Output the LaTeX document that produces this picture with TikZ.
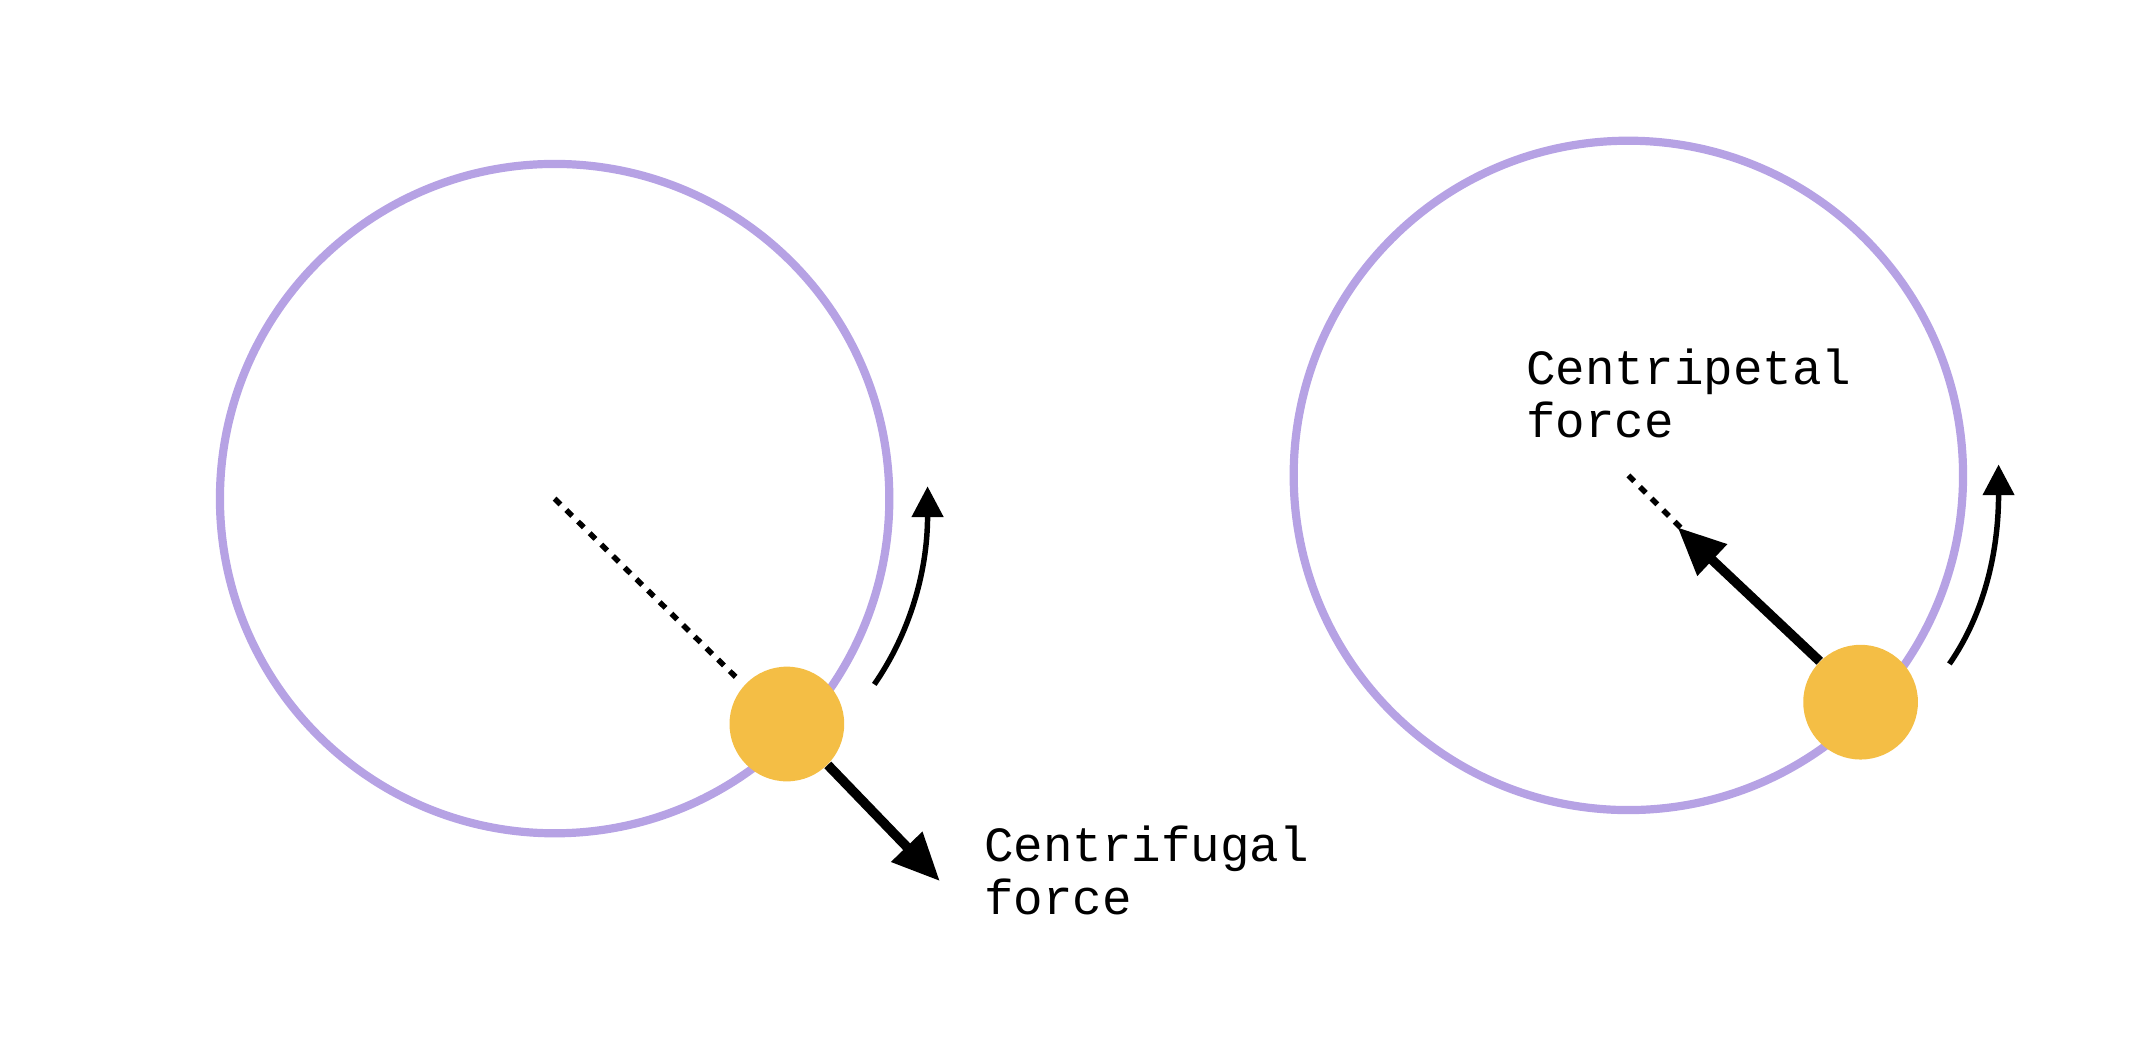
\documentclass[tikz,border=0pt]{standalone}
\usepackage{fontspec}
\setmonofont{Liberation Mono}
\usetikzlibrary{arrows.meta}
\definecolor{ring}{HTML}{B6A2E4}
\definecolor{ball}{HTML}{F4BE45}
\begin{document}
\begin{tikzpicture}[x=0.02cm,y=-0.02cm,
  orbit/.style={draw=ring,line width=0.12cm},
  mass/.style={circle,fill=ball,minimum size=1.68cm,inner sep=0pt},
  radius/.style={line width=0.08cm,dash pattern=on 0.12cm off 0.12cm},
  force/.style={line width=0.14cm,-{Triangle[length=0.7cm,width=0.6cm]}},
  spin/.style={line width=0.08cm,-{Triangle[length=0.45cm,width=0.45cm]}},
  lbl/.style={font=\ttfamily\fontsize{20.5}{22}\selectfont,align=left,anchor=north west,inner sep=0pt}]
\useasboundingbox (0,0) rectangle (1568,760);
% left
\draw[orbit] (406,365) circle (245);
\coordinate (c1) at (406,365);
\coordinate (d1) at (541,498);
\draw[radius] (c1) -- (d1);
\node[mass] (b1) at (576,530) {};
\coordinate (f1) at (688,645);
\draw[force] (b1.-45) -- (f1);
\coordinate (s1) at (640,501);
\coordinate (e1) at (679,356);
\draw[spin] (s1) .. controls (665,465) and (679,420) .. (e1);
\node[lbl] (t1) at (720,604) {Centrifugal\\force};
% right
\draw[orbit] (1192,348) circle (245);
\coordinate (c2) at (1192,348);
\coordinate (d2) at (1236,392);
\draw[radius] (c2) -- (d2);
\node[mass] (b2) at (1362,514) {};
\coordinate (f2) at (1228,386);
\draw[force] (b2.135) -- (f2);
\coordinate (s2) at (1427,486);
\coordinate (e2) at (1463,340);
\draw[spin] (s2) .. controls (1452,450) and (1463,405) .. (e2);
\node[lbl] (t2) at (1117,255) {Centripetal\\force};
\end{tikzpicture}
\end{document}
